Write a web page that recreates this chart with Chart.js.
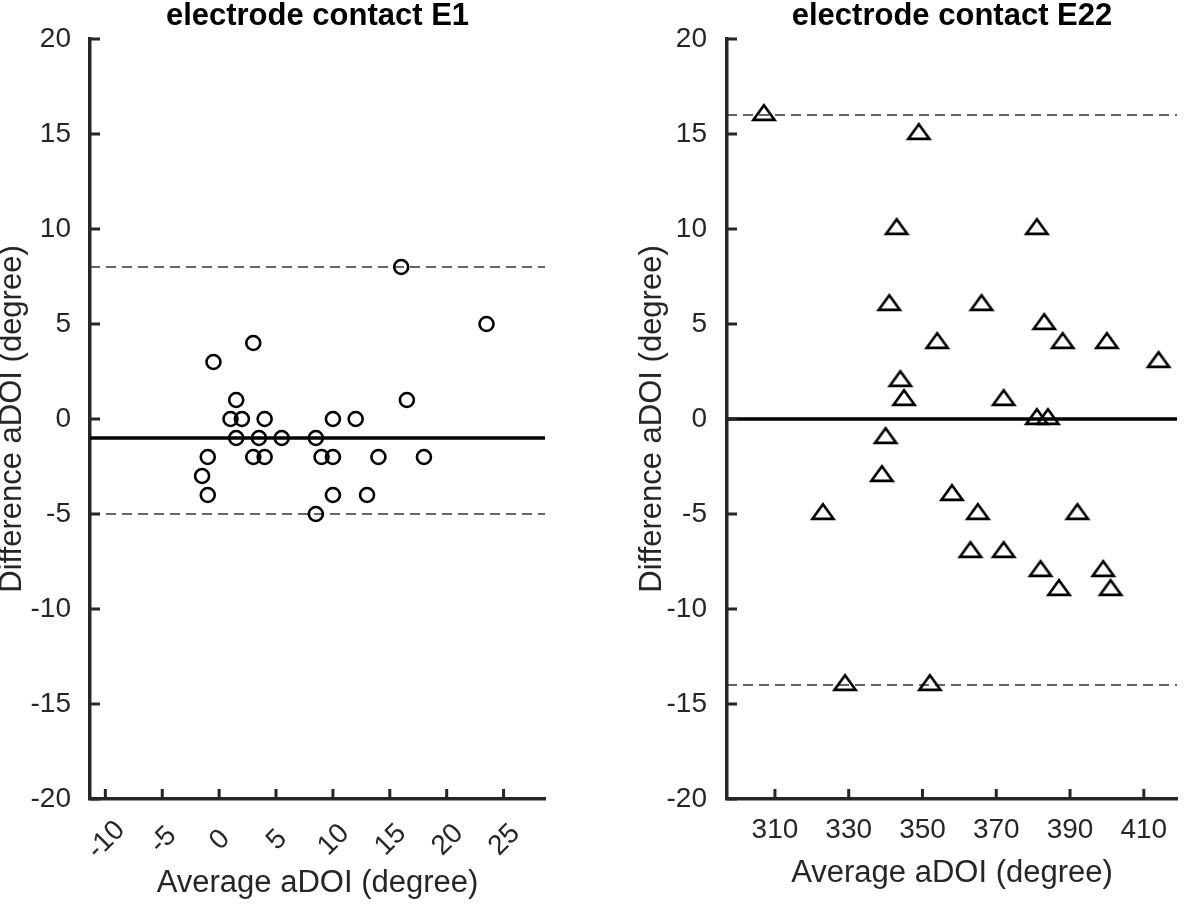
<!DOCTYPE html>
<html>
<head>
<meta charset="utf-8">
<script src="https://cdn.jsdelivr.net/npm/chart.js@4.4.1/dist/chart.umd.min.js"></script>
<style>
  body { margin: 0; background: #fff; }
  #wrap { position: relative; width: 1184px; height: 908px; }
  canvas { position: absolute; top: 0; }
</style>
</head>
<body>
<div id="wrap">
  <canvas id="chartE1" width="600" height="908" style="left:0"></canvas>
  <canvas id="chartE22" width="584" height="908" style="left:600px"></canvas>
</div>
<script>
// electrode contact E1
const e1Avg = [16, 23.5, 3, -0.5, 1.5, 16.5, 1, 2, 4, 10, 12, 1.5, 3.5, 5.5, 8.5,
  -1, 3, 4, 9, 10, 14, 18, -1.5, -1, 10, 13, 8.5];
const e1Diff = [8, 5, 4, 3, 1, 1, 0, 0, 0, 0, 0, -1, -1, -1, -1,
  -2, -2, -2, -2, -2, -2, -2, -3, -4, -4, -4, -5];
const e1Bias = -1;
const e1Limits = [8, -5];
const e1XTicks = [-10, -5, 0, 5, 10, 15, 20, 25];
const e1XRange = [-11.35, 28.64];

// electrode contact E22
const e22Avg = [307, 349, 343, 381, 341, 366, 383, 354, 388, 400, 414, 344, 345, 372, 381,
  384, 340, 339, 323, 358, 365, 392, 363, 372, 382, 399, 387, 401, 329, 352];
const e22Diff = [16, 15, 10, 10, 6, 6, 5, 4, 4, 4, 3, 2, 1, 1, 0,
  0, -1, -3, -5, -4, -5, -5, -7, -7, -8, -8, -9, -9, -14, -14];
const e22Bias = 0;
const e22Limits = [16, -14];
const e22XTicks = [310, 330, 350, 370, 390, 410];
const e22XRange = [297, 419];

const yTicks = [-20, -15, -10, -5, 0, 5, 10, 15, 20];

const font = "'Liberation Sans', Arial, Helvetica, sans-serif";
const axisColor = '#262626';

// matlab style '^' marker, centroid at the canvas centre
function triangleMarker() {
  const c = document.createElement('canvas');
  c.width = 28;
  c.height = 32;
  const g = c.getContext('2d');
  g.lineWidth = 2.7;
  g.strokeStyle = '#000';
  g.beginPath();
  g.moveTo(14, 6.3);
  g.lineTo(24.5, 20.8);
  g.lineTo(3.5, 20.8);
  g.closePath();
  g.stroke();
  return c;
}

function refLine(range, y, dashed) {
  return {
    data: [{ x: range[0], y: y }, { x: range[1], y: y }],
    showLine: true,
    pointRadius: 0,
    borderColor: dashed ? '#333333' : '#000',
    borderWidth: dashed ? 1.4 : 3.5,
    borderDash: dashed ? [10, 6] : [],
    order: 2
  };
}

// ticks pointing into the plot, like matlab
const inwardTicks = {
  id: 'inwardTicks',
  afterDraw(chart) {
    const { ctx, chartArea, scales } = chart;
    ctx.save();
    ctx.strokeStyle = axisColor;
    ctx.lineWidth = 3;
    ctx.beginPath();
    scales.y.ticks.forEach(t => {
      const py = scales.y.getPixelForValue(t.value);
      ctx.moveTo(chartArea.left, py);
      ctx.lineTo(chartArea.left + 10, py);
    });
    scales.x.ticks.forEach(t => {
      const px = scales.x.getPixelForValue(t.value);
      ctx.moveTo(px, chartArea.bottom);
      ctx.lineTo(px, chartArea.bottom - 10);
    });
    ctx.stroke();
    ctx.restore();
  }
};

// 45 degree x labels centred under their tick
const slantedLabels = {
  id: 'slantedLabels',
  afterDraw(chart) {
    const scale = chart.scales.x;
    const ctx = chart.ctx;
    ctx.save();
    ctx.font = '28px ' + font;
    ctx.fillStyle = axisColor;
    ctx.textAlign = 'center';
    ctx.textBaseline = 'middle';
    scale.ticks.forEach(t => {
      ctx.save();
      ctx.translate(scale.getPixelForValue(t.value) + 1, chart.chartArea.bottom + 41);
      ctx.rotate(-Math.PI / 4);
      ctx.fillText(String(t.value), 0, 0);
      ctx.restore();
    });
    ctx.restore();
  }
};

function makeOptions(o) {
  return {
    responsive: false,
    animation: false,
    layout: { padding: { left: 0, right: o.padRight, top: 0, bottom: 0 } },
    plugins: {
      legend: { display: false },
      tooltip: { enabled: false },
      title: {
        display: true,
        fullSize: false,
        text: o.title,
        color: '#000',
        font: { family: font, size: 31, weight: 'bold', lineHeight: 1 },
        padding: { top: 1, bottom: 7 }
      }
    },
    scales: {
      x: {
        type: 'linear',
        min: o.xRange[0],
        max: o.xRange[1],
        afterBuildTicks: s => { s.ticks = o.xTicks.map(v => ({ value: v })); },
        afterFit: s => { s.height = 109; },
        grid: { display: false, drawTicks: false },
        border: { display: true, color: axisColor, width: 3.5 },
        ticks: {
          display: o.xTicksShown,
          autoSkip: false,
          maxRotation: 0,
          minRotation: 0,
          padding: 14,
          color: axisColor,
          font: { family: font, size: 28 }
        },
        title: {
          display: true,
          text: 'Average aDOI (degree)',
          color: axisColor,
          font: { family: font, size: 31 },
          padding: { top: 0, bottom: o.xTitlePad }
        }
      },
      y: {
        type: 'linear',
        min: -20,
        max: 20,
        afterBuildTicks: s => { s.ticks = yTicks.map(v => ({ value: v })); },
        afterFit: s => { s.width = o.yWidth; },
        grid: { display: false, drawTicks: false },
        border: { display: true, color: axisColor, width: 3.5 },
        ticks: {
          padding: o.yTickPad,
          color: axisColor,
          font: { family: font, size: 28 }
        },
        title: {
          display: true,
          text: 'Difference aDOI (degree)',
          color: axisColor,
          font: { family: font, size: 31, lineHeight: 0.8 },
          padding: { top: o.yTitlePad, bottom: 0 }
        }
      }
    }
  };
}

new Chart(document.getElementById('chartE1'), {
  type: 'scatter',
  data: {
    datasets: [
      {
        data: e1Avg.map((x, i) => ({ x: x, y: e1Diff[i] })),
        pointStyle: 'circle',
        pointRadius: 7,
        borderWidth: 2.6,
        borderColor: '#000',
        backgroundColor: 'rgba(0,0,0,0)',
        order: 1
      },
      refLine(e1XRange, e1Bias, false),
      refLine(e1XRange, e1Limits[0], true),
      refLine(e1XRange, e1Limits[1], true)
    ]
  },
  options: makeOptions({
    title: 'electrode contact E1',
    xRange: e1XRange,
    xTicks: e1XTicks,
    xTicksShown: false,
    padRight: 55,
    yWidth: 90,
    yTickPad: 19,
    yTitlePad: 0,
    xTitlePad: 6
  }),
  plugins: [inwardTicks, slantedLabels]
});

new Chart(document.getElementById('chartE22'), {
  type: 'scatter',
  data: {
    datasets: [
      {
        data: e22Avg.map((x, i) => ({ x: x, y: e22Diff[i] })),
        pointStyle: triangleMarker(),
        pointRadius: 6,
        borderColor: '#000',
        order: 1
      },
      refLine(e22XRange, e22Bias, false),
      refLine(e22XRange, e22Limits[0], true),
      refLine(e22XRange, e22Limits[1], true)
    ]
  },
  options: makeOptions({
    title: 'electrode contact E22',
    xRange: e22XRange,
    xTicks: e22XTicks,
    xTicksShown: true,
    padRight: 4,
    yWidth: 127,
    yTickPad: 20,
    yTitlePad: 39.6,
    xTitlePad: 16
  }),
  plugins: [inwardTicks]
});
</script>
</body>
</html>
